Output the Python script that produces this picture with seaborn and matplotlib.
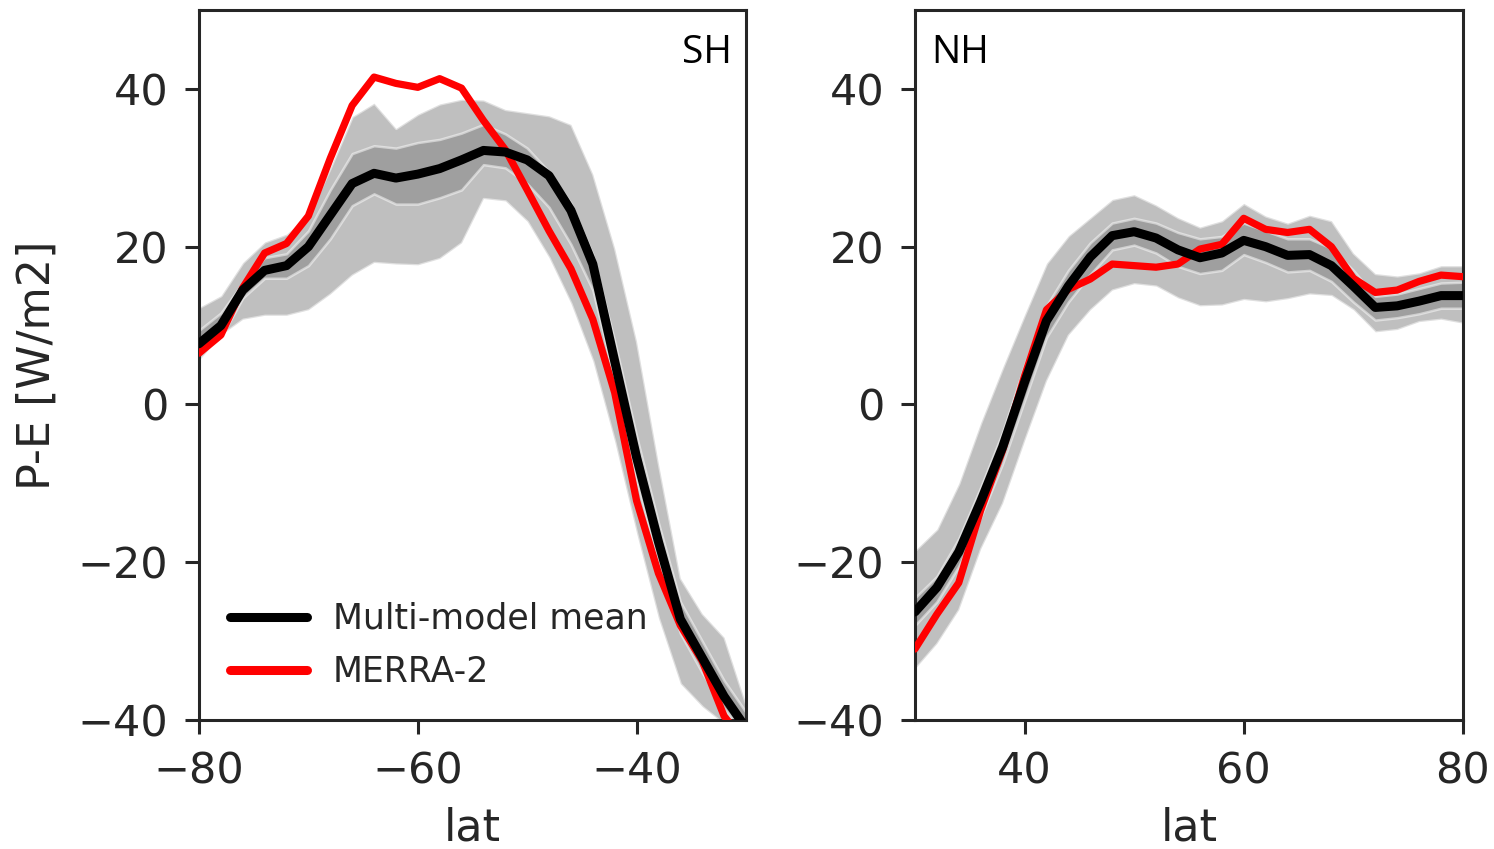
import matplotlib
matplotlib.use("Agg")
import matplotlib.pyplot as plt
import numpy as np
import pandas as pd
import seaborn as sns

# ---------------- data ----------------
sh_lat = [-80, -78, -76, -74, -72, -70, -68, -66, -64, -62, -60, -58, -56,
          -54, -52, -50, -48, -46, -44, -42, -40, -38, -36, -34, -32, -30]
sh_mean = [7.7, 10.0, 14.5, 17.0, 17.6, 20.0, 24.0, 28.0, 29.3, 28.7, 29.2, 29.9, 31.0,
           32.2, 32.0, 31.0, 29.0, 24.6, 17.8, 5.5, -6.7, -17.4, -27.2, -32.1, -37.0, -41.0]
sh_merra = [6.5, 8.8, 14.8, 19.2, 20.4, 23.9, 31.2, 37.9, 41.5, 40.7, 40.2, 41.3, 40.1,
            36.0, 32.3, 27.2, 22.0, 17.2, 10.8, 1.5, -12.2, -21.4, -28.0, -32.5, -39.5, -43.0]
sh_out_hi = [12.3, 13.8, 18.0, 20.6, 21.6, 24.0, 30.0, 36.5, 38.2, 35.0, 36.8, 38.1, 38.7,
             38.6, 37.4, 37.0, 36.6, 35.5, 29.2, 19.8, 8.0, -7.5, -22.0, -26.5, -29.5, -38.0]
sh_out_lo = [5.6, 8.8, 10.8, 11.3, 11.3, 12.0, 14.0, 16.4, 18.0, 17.8, 17.7, 18.5, 20.5,
             26.1, 25.8, 23.2, 18.6, 12.8, 5.5, -4.7, -16.3, -27.1, -35.4, -38.3, -40.5, -42.0]
sh_in_hi = [9.4, 11.6, 15.4, 18.6, 19.1, 22.0, 27.2, 31.8, 32.8, 32.5, 33.2, 33.6, 34.4,
            35.5, 34.3, 32.5, 29.5, 25.5, 19.0, 8.0, -4.0, -15.0, -25.0, -30.0, -35.0, -39.0]
sh_in_lo = [6.5, 8.5, 13.5, 16.0, 16.0, 17.6, 21.0, 25.2, 26.7, 25.4, 25.4, 26.2, 27.2,
            30.4, 30.0, 28.0, 25.0, 20.3, 14.5, 3.0, -9.5, -20.0, -29.0, -34.0, -38.5, -42.0]

nh_lat = [30, 32, 34, 36, 38, 40, 42, 44, 46, 48, 50, 52, 54,
          56, 58, 60, 62, 64, 66, 68, 70, 72, 74, 76, 78, 80]
nh_mean = [-26.3, -23.2, -18.7, -12.3, -5.4, 2.8, 10.6, 15.0, 18.7, 21.4, 21.9, 21.1, 19.6,
           18.6, 19.2, 20.8, 20.0, 18.9, 19.0, 17.6, 15.0, 12.3, 12.5, 13.1, 13.8, 13.8]
nh_merra = [-31.0, -26.6, -22.6, -13.4, -5.8, 3.6, 12.0, 14.6, 15.9, 17.8, 17.6, 17.4, 17.8,
            19.7, 20.3, 23.6, 22.2, 21.8, 22.2, 20.0, 16.0, 14.2, 14.5, 15.6, 16.4, 16.2]
nh_out_hi = [-18.5, -15.8, -10.0, -2.3, 4.7, 11.4, 17.9, 21.4, 23.7, 26.0, 26.6, 25.3, 23.7,
             22.5, 23.3, 25.5, 23.9, 23.0, 24.0, 23.3, 19.2, 16.6, 16.3, 16.7, 17.6, 17.6]
nh_out_lo = [-33.5, -30.3, -26.0, -18.3, -12.5, -4.6, 3.0, 8.8, 12.0, 14.5, 15.3, 15.0, 13.5,
             12.5, 12.6, 13.3, 13.0, 13.4, 14.0, 13.8, 12.0, 9.2, 9.5, 10.5, 10.8, 10.3]
nh_in_hi = [-24.5, -21.8, -17.0, -10.5, -3.5, 5.0, 12.5, 17.0, 20.5, 23.0, 23.6, 23.0, 21.8,
            21.0, 21.3, 23.0, 22.0, 21.0, 21.0, 19.8, 17.0, 13.7, 14.0, 14.7, 15.4, 15.5]
nh_in_lo = [-28.0, -25.0, -20.5, -14.3, -7.5, 0.5, 8.5, 13.0, 16.5, 19.6, 20.2, 19.2, 17.5,
            16.6, 17.0, 19.0, 18.0, 16.8, 17.0, 15.6, 13.0, 10.7, 11.0, 11.5, 12.2, 12.2]

y_ticks = [-40, -20, 0, 20, 40]
sh_xticks = [-80, -60, -40]
nh_xticks = [40, 60, 80]

# ---------------- style ----------------
sns.set_style("ticks")
plt.rcParams["font.family"] = ["DejaVu Sans"]

fig = plt.figure(figsize=(14.94, 8.49), dpi=100)
ax1 = fig.add_axes([0.1332, 0.1519, 0.3661, 0.8363])
ax2 = fig.add_axes([0.6124, 0.1519, 0.3668, 0.8363])


def panel(ax, lat, mean, merra, olo, ohi, ilo, ihi, xlim, xticks, tag, tagx, ha):
    ax.fill_between(lat, olo, ohi, facecolor="grey", edgecolor="white",
                    alpha=0.5, lw=1.8, zorder=1)
    ax.fill_between(lat, ilo, ihi, facecolor="grey", edgecolor="white",
                    alpha=0.5, lw=1.8, zorder=2)
    df = pd.DataFrame({"lat": lat, "mean": mean, "merra": merra})
    sns.lineplot(data=df, x="lat", y="merra", ax=ax, color="red", lw=5.2,
                 label="MERRA-2", zorder=3)
    sns.lineplot(data=df, x="lat", y="mean", ax=ax, color="black", lw=6.5,
                 label="Multi-model mean", zorder=4)
    ax.set_xlim(*xlim)
    ax.set_ylim(-40, 50)
    ax.set_xticks(xticks)
    ax.set_yticks(y_ticks)
    ax.tick_params(labelsize=31, length=10, width=2.2, pad=12)
    for s in ax.spines.values():
        s.set_linewidth(2.2)
    ax.set_xlabel("lat", fontsize=32, labelpad=10)
    ax.set_ylabel("")
    ax.text(tagx, 0.94, tag, transform=ax.transAxes, ha=ha, va="center",
            fontsize=28, color="black", family=["Open Sans", "DejaVu Sans"])
    ax.get_legend().remove()


panel(ax1, sh_lat, sh_mean, sh_merra, sh_out_lo, sh_out_hi, sh_in_lo, sh_in_hi,
      (-80, -30), sh_xticks, "SH", 0.975, "right")
panel(ax2, nh_lat, nh_mean, nh_merra, nh_out_lo, nh_out_hi, nh_in_lo, nh_in_hi,
      (30, 80), nh_xticks, "NH", 0.03, "left")

ax1.set_ylabel("P-E [W/m2]", fontsize=32, labelpad=14)

h, l = ax1.get_legend_handles_labels()
order = [l.index("Multi-model mean"), l.index("MERRA-2")]
leg = ax1.legend([h[i] for i in order], [l[i] for i in order], loc="lower left",
                 bbox_to_anchor=(0.0, 0.0), frameon=False, fontsize=25,
                 handlelength=2.2, handletextpad=0.75, labelspacing=0.55,
                 borderaxespad=0.5)
for line in leg.get_lines():
    line.set_linewidth(6.5)
    line.set_solid_capstyle("round")

fig.savefig("out.png", dpi=100)
